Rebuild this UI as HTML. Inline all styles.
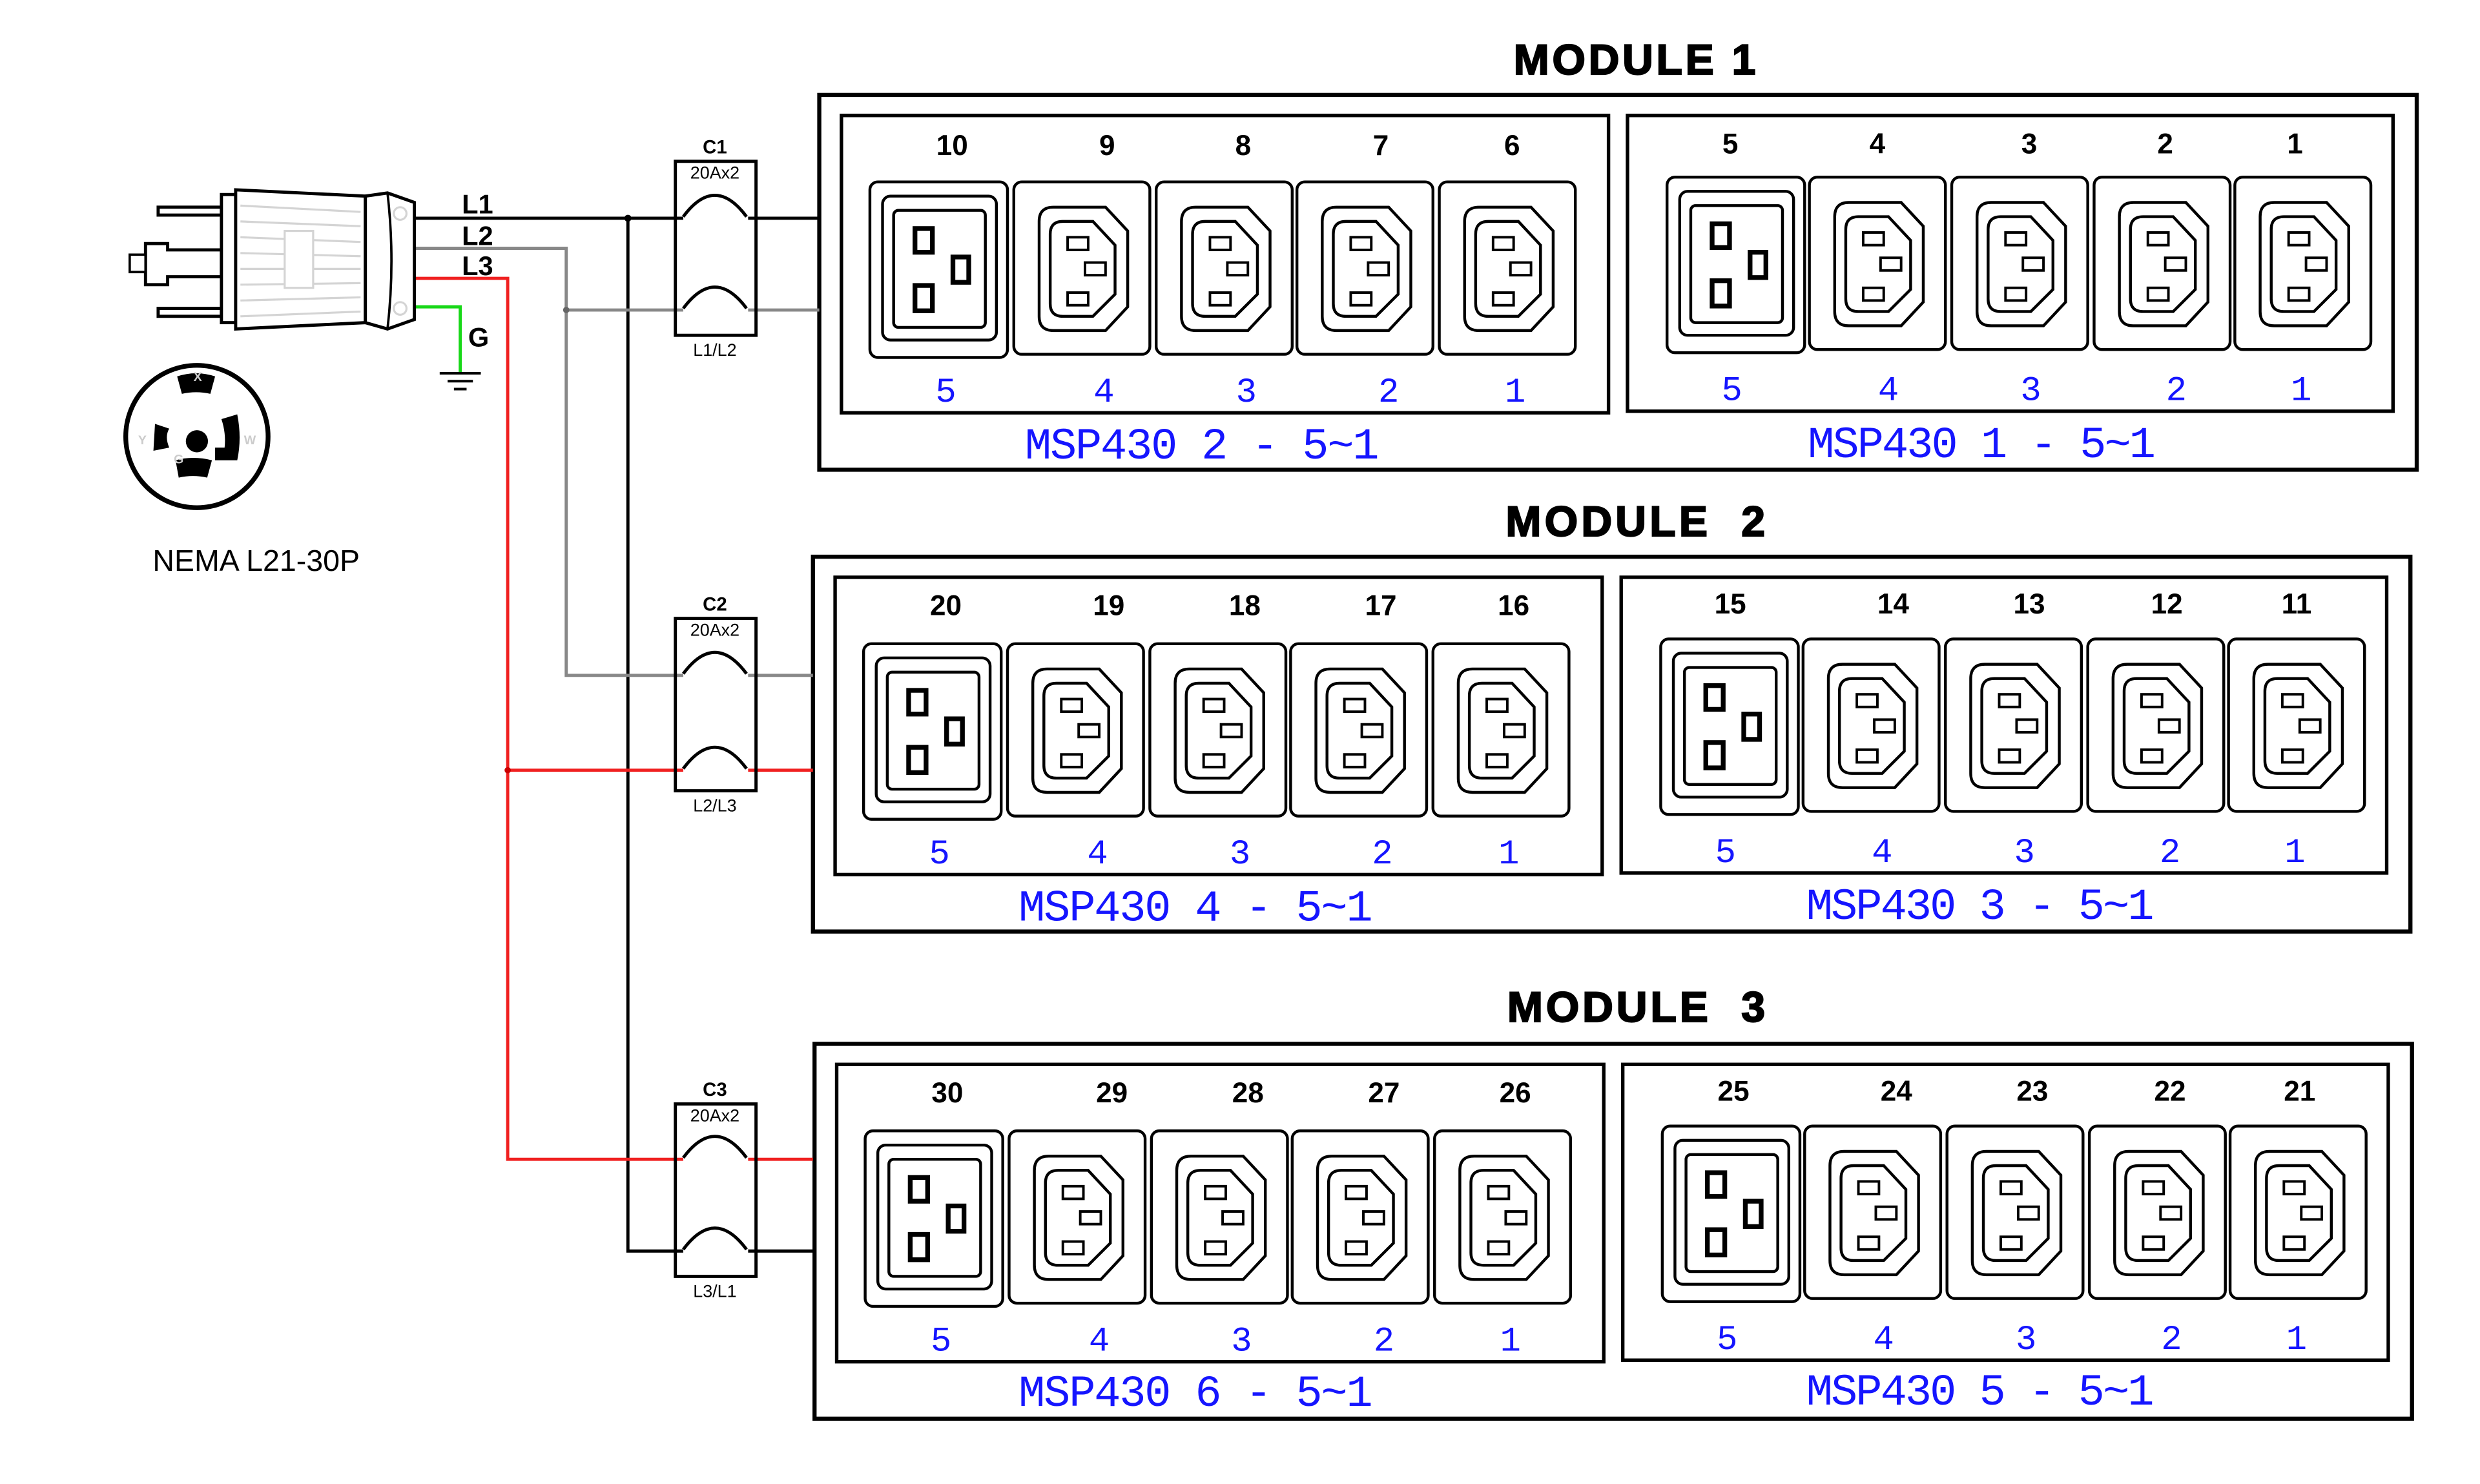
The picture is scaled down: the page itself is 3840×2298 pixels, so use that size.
<!DOCTYPE html>
<html><head><meta charset="utf-8"><style>
html,body{margin:0;padding:0;background:#fff;}
svg{display:block;}
.t{font-family:"Liberation Sans",sans-serif;font-weight:bold;}
.n{font-family:"Liberation Sans",sans-serif;font-weight:bold;font-size:18px;text-anchor:middle;}
.b{font-family:"Liberation Mono",monospace;fill:#1515ff;text-anchor:middle;}
</style></head><body>
<svg width="3840" height="2298" viewBox="0 0 1568 938.3" preserveAspectRatio="none" xmlns="http://www.w3.org/2000/svg">
<defs>
<symbol id="c13" overflow="visible">
<rect x="0" y="0" width="86" height="109" rx="5" fill="none" stroke="#000" stroke-width="1.8"/>
<path d="M25,16 H58 L72,31 V79 L58,94 H25 Q16,94 16,85 V25 Q16,16 25,16 Z" fill="none" stroke="#000" stroke-width="1.8"/>
<path d="M31,25 H50 L64,40 V71 L50,85 H31 Q23,85 23,77 V33 Q23,25 31,25 Z" fill="none" stroke="#000" stroke-width="1.8"/>
<rect x="34" y="35" width="13" height="8" fill="none" stroke="#000" stroke-width="1.6"/>
<rect x="34" y="70" width="13" height="8" fill="none" stroke="#000" stroke-width="1.6"/>
<rect x="45" y="51" width="13" height="8" fill="none" stroke="#000" stroke-width="1.6"/>
</symbol>
<symbol id="c19" overflow="visible">
<rect x="0" y="0" width="87" height="111" rx="5" fill="none" stroke="#000" stroke-width="1.8"/>
<rect x="8" y="9" width="72" height="91" rx="5" fill="none" stroke="#000" stroke-width="1.8"/>
<rect x="15" y="18" width="58" height="74" rx="3" fill="none" stroke="#000" stroke-width="1.8"/>
<rect x="27" y="28" width="14" height="18" fill="#000"/><rect x="30" y="31" width="8" height="12" fill="#fff"/>
<rect x="27" y="64" width="14" height="19" fill="#000"/><rect x="30" y="67" width="8" height="13" fill="#fff"/>
<rect x="51" y="46" width="13" height="19" fill="#000"/><rect x="54" y="49" width="7" height="13" fill="#fff"/>
</symbol>
<g id="frame">
<rect x="518" y="60" width="1010" height="237" fill="none" stroke="#000" stroke-width="2.6"/>
<rect x="532" y="73" width="485" height="188" fill="none" stroke="#000" stroke-width="2.2"/>
<rect x="1029" y="73" width="484" height="187" fill="none" stroke="#000" stroke-width="2.2"/>
<use href="#c19" x="550" y="115"/><use href="#c13" x="641" y="115"/><use href="#c13" x="731" y="115"/><use href="#c13" x="820" y="115"/><use href="#c13" x="910" y="115"/>
<use href="#c19" x="1054" y="112"/><use href="#c13" x="1144" y="112"/><use href="#c13" x="1234" y="112"/><use href="#c13" x="1324" y="112"/><use href="#c13" x="1413" y="112"/>
<g class="b" font-size="22"><text x="598" y="254">5</text><text x="698" y="254">4</text><text x="788" y="254">3</text><text x="878" y="254">2</text><text x="958" y="254">1</text>
<text x="1095" y="253">5</text><text x="1194" y="253">4</text><text x="1284" y="253">3</text><text x="1376" y="253">2</text><text x="1455" y="253">1</text></g>
</g>
</defs>

<text class="t" x="957" y="47" font-size="27" textLength="153" stroke="#000" stroke-width="0.9">MODULE 1</text>
<use href="#frame"/>
<g class="n"><text x="602" y="98">10</text><text x="700" y="98">9</text><text x="786" y="98">8</text><text x="873" y="98">7</text><text x="956" y="98">6</text>
<text x="1094" y="97">5</text><text x="1187" y="97">4</text><text x="1283" y="97">3</text><text x="1369" y="97">2</text><text x="1451" y="97">1</text></g>
<g class="b" font-size="28"><text x="760" y="290" textLength="224">MSP430 2 - 5~1</text><text x="1253" y="289" textLength="220">MSP430 1 - 5~1</text></g>

<text class="t" x="952" y="339" font-size="27" textLength="164" stroke="#000" stroke-width="0.9" xml:space="preserve">MODULE  2</text>
<g transform="translate(-4,292)"><use href="#frame"/></g>
<g class="n"><text x="598" y="389">20</text><text x="701" y="389">19</text><text x="787" y="389">18</text><text x="873" y="389">17</text><text x="957" y="389">16</text>
<text x="1094" y="388">15</text><text x="1197" y="388">14</text><text x="1283" y="388">13</text><text x="1370" y="388">12</text><text x="1452" y="388">11</text></g>
<g class="b" font-size="28"><text x="756" y="582" textLength="224">MSP430 4 - 5~1</text><text x="1252" y="581" textLength="220">MSP430 3 - 5~1</text></g>

<text class="t" x="953" y="646" font-size="27" textLength="163" stroke="#000" stroke-width="0.9" xml:space="preserve">MODULE  3</text>
<g transform="translate(-3,600)"><use href="#frame"/></g>
<g class="n"><text x="599" y="697">30</text><text x="703" y="697">29</text><text x="789" y="697">28</text><text x="875" y="697">27</text><text x="958" y="697">26</text>
<text x="1096" y="696">25</text><text x="1199" y="696">24</text><text x="1285" y="696">23</text><text x="1372" y="696">22</text><text x="1454" y="696">21</text></g>
<g class="b" font-size="28"><text x="756" y="889" textLength="224">MSP430 6 - 5~1</text><text x="1252" y="888" textLength="220">MSP430 5 - 5~1</text></g>

<g fill="none" stroke-width="2">
<path d="M262,138 H432 M473,138 H518" stroke="#000"/>
<path d="M397,138 V791 H432 M473,791 H514" stroke="#000"/>
<path d="M262,157 H358 V427 H432 M473,427 H514" stroke="#888"/>
<path d="M358,196 H432 M473,196 H518" stroke="#888"/>
<path d="M262,176 H321 V733 H432 M473,733 H514" stroke="#f02020"/>
<path d="M321,487 H432 M473,487 H514" stroke="#f02020"/>
<path d="M262,194 H291 V236" stroke="#18d818"/>
</g>
<circle cx="397" cy="138" r="2.2"/><circle cx="358" cy="196" r="2" fill="#666"/><circle cx="321" cy="487" r="2" fill="#c00"/>
<g stroke="#000" stroke-width="1.6"><line x1="278" y1="236" x2="304" y2="236"/><line x1="283" y1="241" x2="299" y2="241"/><line x1="287" y1="246" x2="295" y2="246"/></g>
<g class="t" font-size="17"><text x="292" y="135">L1</text><text x="292" y="155">L2</text><text x="292" y="174">L3</text><text x="296" y="219">G</text></g>

<g fill="none" stroke="#000" stroke-width="2">
<rect x="427" y="102" width="51" height="110"/>
<path d="M432,137 Q452,110 472,137 M432,195 Q452,168 472,195"/>
<rect x="427" y="391" width="51" height="109"/>
<path d="M432,426 Q452,399 472,426 M432,486 Q452,459 472,486"/>
<rect x="427" y="698" width="51" height="109"/>
<path d="M432,732 Q452,705 472,732 M432,790 Q452,763 472,790"/>
</g>
<g font-family="Liberation Sans,sans-serif" text-anchor="middle">
<text x="452" y="97" font-size="12" font-weight="bold">C1</text><text x="452" y="113" font-size="11">20Ax2</text><text x="452" y="225" font-size="11">L1/L2</text>
<text x="452" y="386" font-size="12" font-weight="bold">C2</text><text x="452" y="402" font-size="11">20Ax2</text><text x="452" y="513" font-size="11">L2/L3</text>
<text x="452" y="693" font-size="12" font-weight="bold">C3</text><text x="452" y="709" font-size="11">20Ax2</text><text x="452" y="820" font-size="11">L3/L1</text>
</g>

<g stroke="#000" stroke-width="2">
<path d="M100,131 H140 V136 H100 Z M100,195 H140 V200 H100 Z" fill="#fff"/>
<path d="M92,154 H106 V158 H140 V175 H106 V180 H92 Z" fill="#fff"/>
<path d="M82,161 H92 V172 H82 Z" fill="#fff" stroke-width="1.5"/>
<rect x="140" y="123" width="9" height="81" fill="#fff"/>
<path d="M149,120 L231,124 L231,204 L149,208 Z" fill="#fff"/>
<path d="M231,124 L245,122 L262,128 L262,202 L245,208 L231,204 Z" fill="#fff"/>
<path d="M245,122 Q250,165 245,208" fill="none" stroke-width="1.5"/>
</g>
<g stroke="#d4d4d4" stroke-width="1.3" fill="none">
<path d="M152,130 L228,134 M152,140 L228,143 M152,150 L228,153 M152,160 L228,162 M152,170 L228,170 M152,180 L228,179 M152,190 L228,188 M152,200 L228,197"/>
<rect x="180" y="146" width="18" height="36" fill="#fff"/>
<circle cx="253" cy="135" r="4"/><circle cx="253" cy="195" r="4"/>
</g>

<circle cx="124.5" cy="276" r="45" fill="none" stroke="#000" stroke-width="3"/>
<circle cx="124.5" cy="279" r="7"/>
<path d="M112,238 Q124,234 136,238 L133,249 Q124,247 115,249 Z"/>
<path d="M111,291 Q122,288 134,291 L131,302 Q122,300 113,302 Z"/>
<path d="M98,268 L107,271 Q104,276 107,283 L97,285 Z"/>
<path d="M140,265 L150,262 Q153,277 150,291 L136,291 L136,283 L142,283 Q143,274 140,265 Z"/>
<g fill="#ccc" font-family="Liberation Sans,sans-serif" font-weight="bold" font-size="8" text-anchor="middle">
<text x="125" y="241">X</text><text x="90" y="281">Y</text><text x="158" y="281">W</text><text x="113" y="293">G</text></g>
<text x="162" y="361" font-family="Liberation Sans,sans-serif" font-size="19" text-anchor="middle">NEMA L21-30P</text>
</svg>
</body></html>
